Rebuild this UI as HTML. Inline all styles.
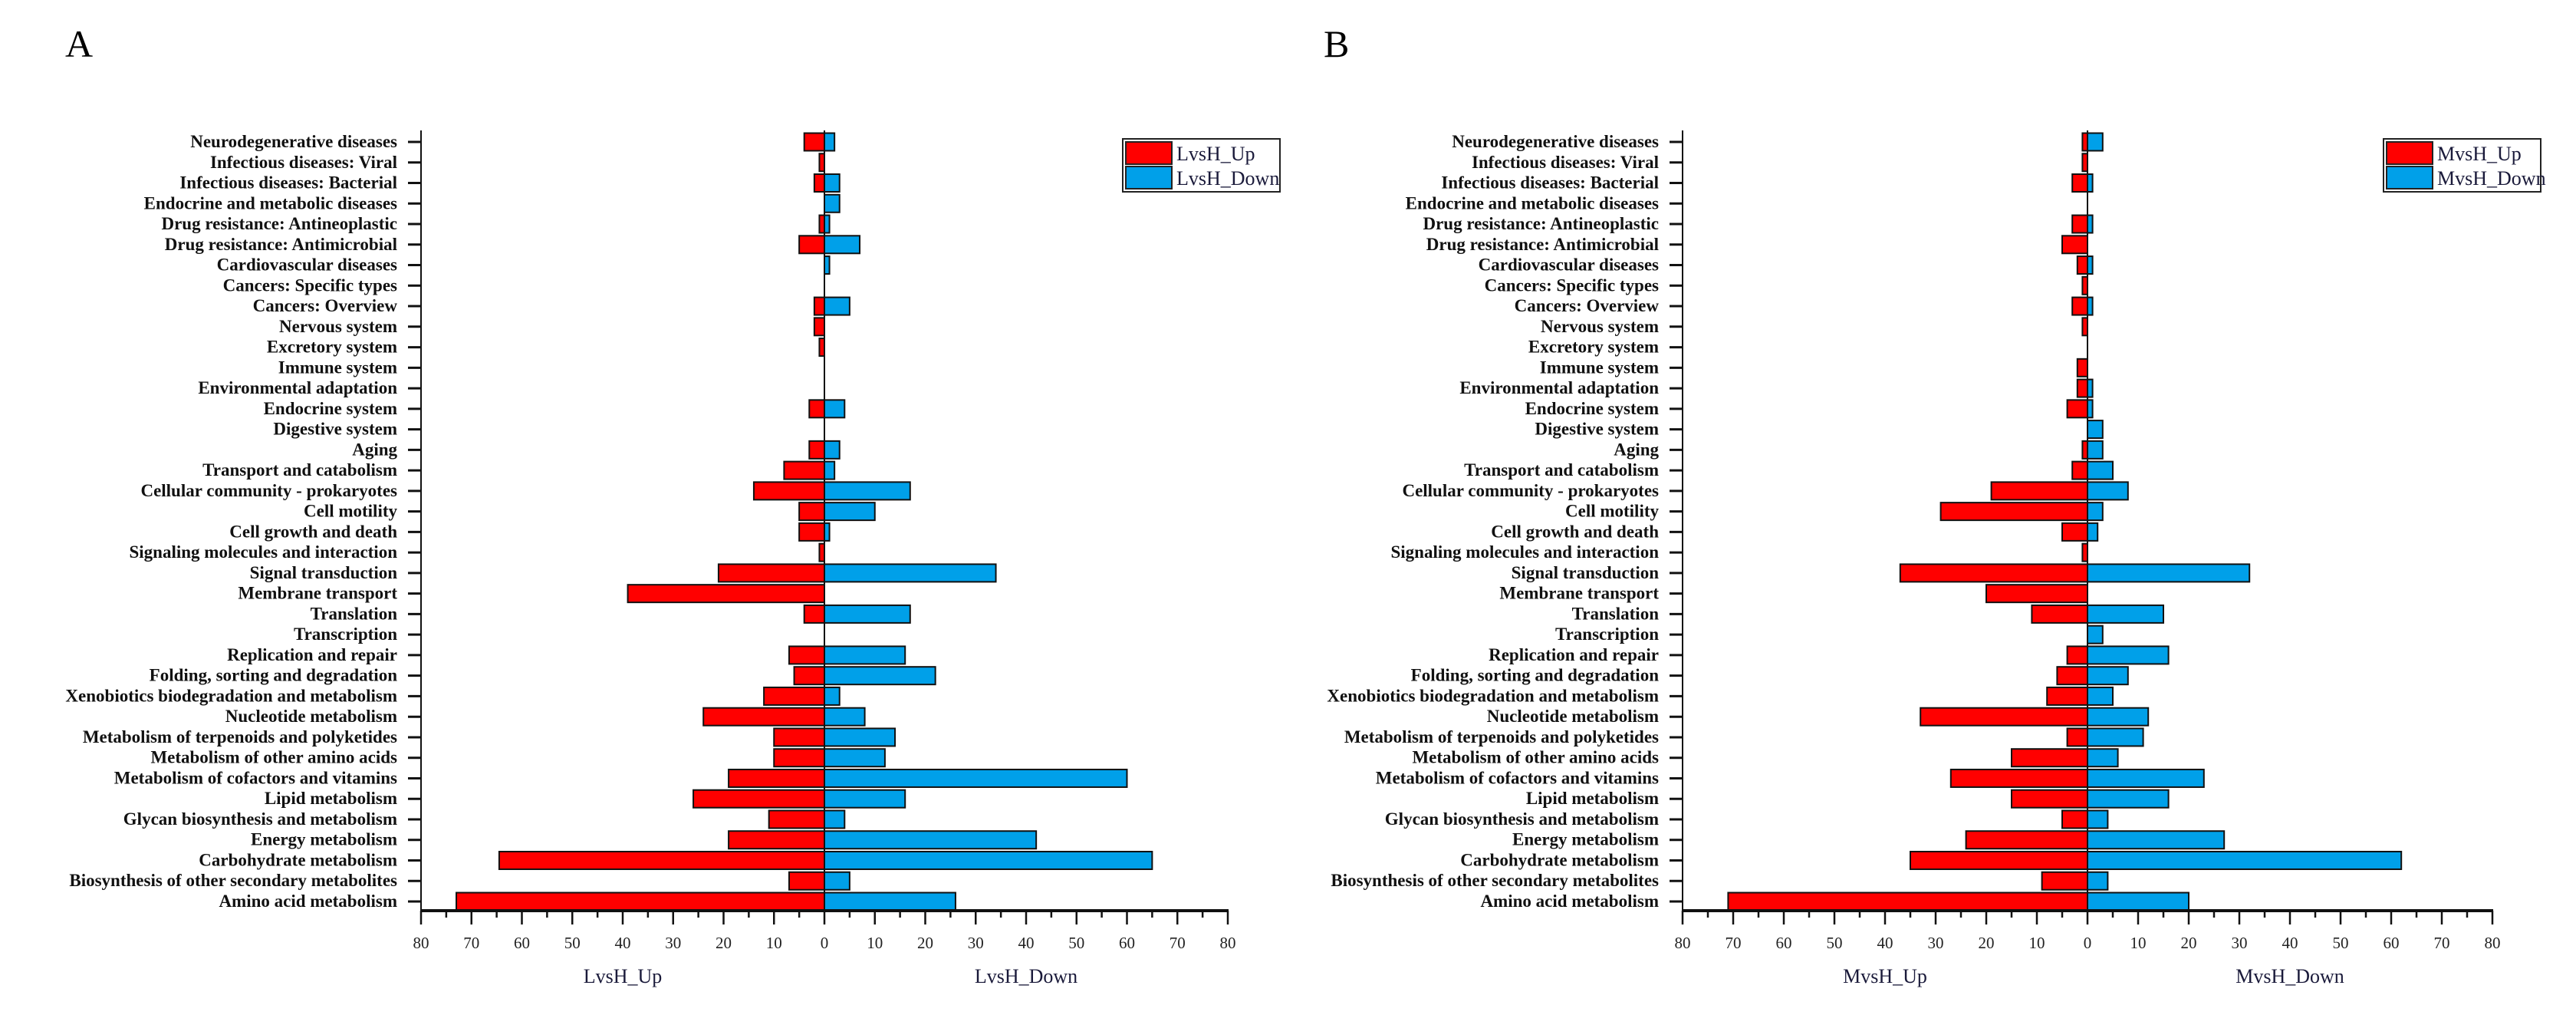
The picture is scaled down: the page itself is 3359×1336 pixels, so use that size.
<!DOCTYPE html>
<html><head><meta charset="utf-8">
<style>
html,body{margin:0;padding:0;background:#fff;}
svg{display:block;}
text{font-family:"Liberation Serif",serif;}
</style></head>
<body>
<svg id="chart" width="3359" height="1336" viewBox="0 0 3359 1336" xmlns="http://www.w3.org/2000/svg">
<rect width="3359" height="1336" fill="#fff"/>
<text x="85" y="74" font-size="50">A</text>
<text x="1726" y="74" font-size="50">B</text>
<g id="panelA"></g>
<g id="panelB"></g>
</svg>
<script>
const categories = ["Neurodegenerative diseases","Infectious diseases: Viral","Infectious diseases: Bacterial","Endocrine and metabolic diseases","Drug resistance: Antineoplastic","Drug resistance: Antimicrobial","Cardiovascular diseases","Cancers: Specific types","Cancers: Overview","Nervous system","Excretory system","Immune system","Environmental adaptation","Endocrine system","Digestive system","Aging","Transport and catabolism","Cellular community - prokaryotes","Cell motility","Cell growth and death","Signaling molecules and interaction","Signal transduction","Membrane transport","Translation","Transcription","Replication and repair","Folding, sorting and degradation","Xenobiotics biodegradation and metabolism","Nucleotide metabolism","Metabolism of terpenoids and polyketides","Metabolism of other amino acids","Metabolism of cofactors and vitamins","Lipid metabolism","Glycan biosynthesis and metabolism","Energy metabolism","Carbohydrate metabolism","Biosynthesis of other secondary metabolites","Amino acid metabolism"];
const lvshUp   = [4,1,2,0,1,5,0,0,2,2,1,0,0,3,0,3,8,14,5,5,1,21,39,4,0,7,6,12,24,10,10,19,26,11,19,64.5,7,73];
const lvshDown = [2,0,3,3,1,7,1,0,5,0,0,0,0,4,0,3,2,17,10,1,0,34,0,17,0,16,22,3,8,14,12,60,16,4,42,65,5,26];
const mvshUp   = [1,1,3,0,3,5,2,1,3,1,0,2,2,4,0,1,3,19,29,5,1,37,20,11,0,4,6,8,33,4,15,27,15,5,24,35,9,71];
const mvshDown = [3,0,1,0,1,0,1,0,1,0,0,0,1,1,3,3,5,8,3,2,0,32,0,15,3,16,8,5,12,11,6,23,16,4,27,62,4,20];
const tickValues = [80,70,60,50,40,30,20,10,0,10,20,30,40,50,60,70,80];
const NS = "http://www.w3.org/2000/svg";
function mk(parent, tag, attrs){const e=document.createElementNS(NS,tag);for(const k in attrs)e.setAttribute(k,attrs[k]);parent.appendChild(e);return e;}

function drawPanel(g, x0, unit, up, down, upName, downName, legX){
  const top=170, bottom=1187, firstY=185, step=(1175-185)/(categories.length-1), bh=23;
  const xs = v => x0 + 80*unit + v*unit; // v signed
  const zero = xs(0);
  const yOf = i => firstY + i*step;
  // bars
  categories.forEach((c,i)=>{
    const y=yOf(i);
    if(up[i]>0){
      const r=mk(g,'rect',{x:xs(-up[i]),y:y-bh/2,width:up[i]*unit,height:bh,fill:'#ff0000',stroke:'#111','stroke-width':2});
      
      
    }
    if(down[i]>0){
      const r=mk(g,'rect',{x:zero,y:y-bh/2,width:down[i]*unit,height:bh,fill:'#00a0e9',stroke:'#111','stroke-width':2});
      
      
    }
    const t=mk(g,'text',{x:x0-31,y:y+7,'font-size':23,'font-weight':'bold','text-anchor':'end',fill:'#111'});
    t.textContent=c;
    
    
    const tk=mk(g,'line',{x1:x0-17,x2:x0,y1:y,y2:y,stroke:'#111','stroke-width':3});
    
    
  });
  // zero line
  const zl=mk(g,'line',{x1:zero,x2:zero,y1:top,y2:bottom,stroke:'#111','stroke-width':2});
  
  
  // axes
  const ya=mk(g,'line',{x1:x0,x2:x0,y1:top,y2:bottom+1,stroke:'#111','stroke-width':2});
  
  
  const xa=mk(g,'line',{x1:x0-1,x2:xs(80)+1,y1:bottom,y2:bottom,stroke:'#111','stroke-width':4});
  
  
  tickValues.forEach((tv,j)=>{
    const v=(j<8?-1:1)*tv;
    const x=xs(v);
    const l=mk(g,'line',{x1:x,x2:x,y1:bottom,y2:bottom+18,stroke:'#111','stroke-width':2.5});
    
    
    if(j<16){
      const m=mk(g,'line',{x1:x+5*unit,x2:x+5*unit,y1:bottom,y2:bottom+9,stroke:'#111','stroke-width':2.5});
      
      
    }
    const t=mk(g,'text',{x:x,y:bottom+49,'font-size':21,'text-anchor':'middle',fill:'#222'});
    t.textContent=tv;
    
    
  });
  const a1=mk(g,'text',{x:xs(-40),y:1281,'font-size':26,'text-anchor':'middle',fill:'#1a1a3a'});
  a1.textContent=upName;
  
  
  const a2=mk(g,'text',{x:xs(40),y:1281,'font-size':26,'text-anchor':'middle',fill:'#1a1a3a'});
  a2.textContent=downName;
  
  
  // legend
  const lg=mk(g,'g',{});
  
  
  mk(lg,'rect',{x:legX,y:181,width:205,height:69,fill:'#fff',stroke:'#222','stroke-width':2});
  const s1=mk(lg,'rect',{x:legX+4,y:185,width:60,height:29,fill:'#ff0000',stroke:'#222','stroke-width':2});
  
  
  const s2=mk(lg,'rect',{x:legX+4,y:217,width:60,height:29,fill:'#00a0e9',stroke:'#222','stroke-width':2});
  
  
  const t1=mk(lg,'text',{x:legX+70,y:209,'font-size':26,fill:'#1a1a3a'});
  t1.textContent=upName;
  
  
  const t2=mk(lg,'text',{x:legX+70,y:241,'font-size':26,fill:'#1a1a3a'});
  t2.textContent=downName;
  
  
}
drawPanel(document.getElementById('panelA'),549,6.575,lvshUp,lvshDown,'LvsH_Up','LvsH_Down',1464);
drawPanel(document.getElementById('panelB'),2194,6.6,mvshUp,mvshDown,'MvsH_Up','MvsH_Down',3108);
</script>
</body></html>
